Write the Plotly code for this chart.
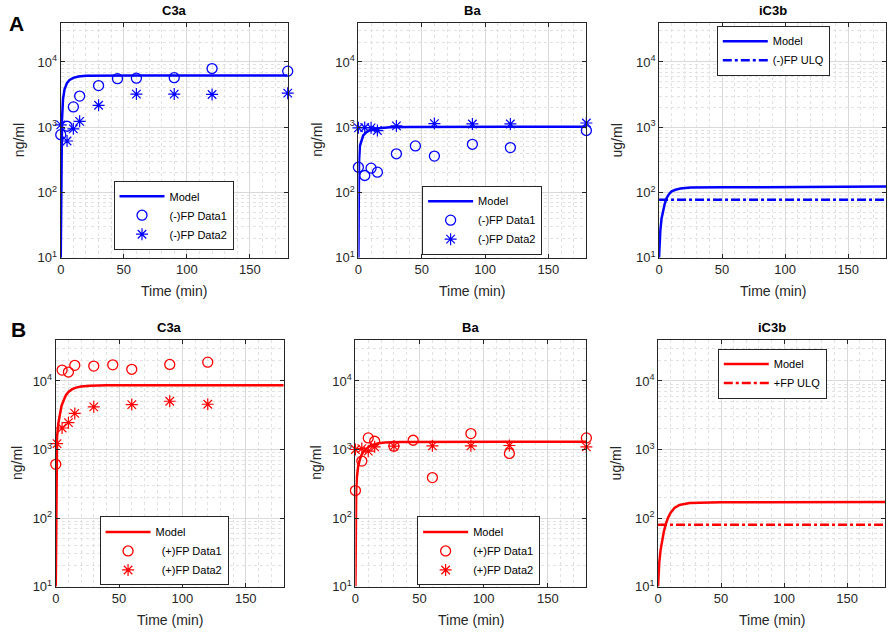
import plotly.graph_objects as go
from plotly.subplots import make_subplots

# ---- data ----
# sampling times of the measurements (min)
t_data = [0, 5, 10, 15, 30, 45, 60, 90, 120, 180]

# (-)FP, C3a (ng/ml)
c3a_neg_d1 = [770, 1035, 2050, 3000, 4350, 5550, 5650, 5740, 7940, 7230]
c3a_neg_d2_t = [0, 5, 10, 15, 30, 60, 90, 120, 180]
c3a_neg_d2 = [1085, 615, 945, 1230, 2170, 3220, 3220, 3180, 3330]
c3a_neg_model_t = [0, 0.3, 0.6, 1, 1.8, 3, 5, 7, 10, 14, 20, 30, 60, 120, 180]
c3a_neg_model = [10, 80, 400, 1300, 2700, 3800, 4800, 5300, 5700, 6000, 6150, 6200, 6200, 6200, 6200]

# (-)FP, Ba (ng/ml)
ba_neg_d1 = [244, 182, 236, 205, 392, 517, 361, 548, 488, 890]
ba_neg_d2_t = [0, 5, 10, 15, 30, 60, 90, 120, 180]
ba_neg_d2 = [980, 990, 980, 890, 1047, 1136, 1123, 1123, 1162]
ba_neg_model_t = [0, 0.2, 0.5, 1.2, 2.5, 3.8, 6, 8, 12, 16, 25, 40, 180]
ba_neg_model = [10, 60, 300, 520, 650, 750, 830, 880, 930, 965, 1000, 1010, 1020]

# (-)FP, iC3b (ug/ml)
ic3b_neg_model_t = [0, 0.5, 1, 2, 3, 4.5, 6, 8, 10, 13, 17, 25, 50, 100, 180]
ic3b_neg_model = [10, 18, 26, 40, 52, 67, 82, 95, 104, 110, 115, 119, 120, 121, 123]
ic3b_neg_ulq = 77.5

# (+)FP, C3a (ng/ml)
c3a_pos_d1_t = [0, 5, 10, 15, 30, 45, 60, 90, 120]
c3a_pos_d1 = [607, 14400, 13500, 16900, 16500, 17200, 14800, 17400, 18800]
c3a_pos_d2_t = [1, 5, 10, 15, 30, 60, 90, 120]
c3a_pos_d2 = [1220, 2060, 2460, 3360, 4190, 4520, 5060, 4570]
c3a_pos_model_t = [0, 0.3, 0.6, 1, 2, 3.3, 4.5, 6, 8, 10, 13, 16, 20, 27, 40, 180]
c3a_pos_model = [10, 60, 600, 1500, 2400, 3300, 4300, 5100, 6200, 6900, 7600, 8000, 8300, 8500, 8650, 8650]

# (+)FP, Ba (ng/ml)
ba_pos_d1 = [252, 678, 1475, 1320, 1118, 1365, 389, 1706, 875, 1475]
ba_pos_d2_t = [0, 5, 10, 15, 30, 60, 90, 120, 180]
ba_pos_d2 = [1000, 1030, 946, 1093, 1118, 1130, 1130, 1143, 1093]
ba_pos_model_t = [0, 0.2, 0.6, 1.2, 2.1, 3.5, 4.7, 6.5, 8.5, 11, 14, 18, 23, 35, 180]
ba_pos_model = [10, 60, 250, 400, 560, 720, 830, 940, 1030, 1120, 1180, 1230, 1260, 1290, 1300]

# (+)FP, iC3b (ug/ml)
ic3b_pos_model_t = [0, 0.5, 1, 2, 3, 4.5, 6, 8, 10, 13, 17, 25, 50, 180]
ic3b_pos_model = [10, 17, 23, 34, 44, 62, 80, 102, 120, 140, 155, 166, 170, 171]
ic3b_pos_ulq = 80

y_tickvals = [10, 100, 1000, 10000]
y_ticktext = ["10<sup>1</sup>", "10<sup>2</sup>", "10<sup>3</sup>", "10<sup>4</sup>"]
x_tickvals = [0, 50, 100, 150]

W, H = 892, 640
FONT = "Liberation Sans, Arial, sans-serif"
AX = "#262626"
BLUE = "#0000ff"
RED = "#ff0000"


def px(x):
    return x / W


def py(y):
    return 1 - y / H


fig = make_subplots(rows=2, cols=3)


def model(t, y, color, leg, row, col):
    fig.add_trace(go.Scatter(x=t, y=y, mode="lines", name="Model",
                             line=dict(color=color, width=2.5), legend=leg),
                  row=row, col=col)


def circles(t, y, color, name, leg, row, col):
    fig.add_trace(go.Scatter(x=t, y=y, mode="markers", name=name, cliponaxis=False,
                             marker=dict(symbol="circle-open", size=10, color=color,
                                         line=dict(color=color, width=1.3)),
                             legend=leg), row=row, col=col)


def stars(t, y, color, name, leg, row, col):
    fig.add_trace(go.Scatter(x=t, y=y, mode="markers", name=name, cliponaxis=False,
                             marker=dict(symbol="asterisk-open", size=10, color=color,
                                         line=dict(color=color, width=1.2)),
                             legend=leg), row=row, col=col)


def ulq(val, color, name, leg, row, col):
    fig.add_trace(go.Scatter(x=[0, 180], y=[val, val], mode="lines", name=name,
                             line=dict(color=color, width=2.5, dash="dashdot"),
                             legend=leg), row=row, col=col)


# top row, (-)FP
model(c3a_neg_model_t, c3a_neg_model, BLUE, "legend", 1, 1)
circles(t_data, c3a_neg_d1, BLUE, "(-)FP Data1", "legend", 1, 1)
stars(c3a_neg_d2_t, c3a_neg_d2, BLUE, "(-)FP Data2", "legend", 1, 1)

model(ba_neg_model_t, ba_neg_model, BLUE, "legend2", 1, 2)
circles(t_data, ba_neg_d1, BLUE, "(-)FP Data1", "legend2", 1, 2)
stars(ba_neg_d2_t, ba_neg_d2, BLUE, "(-)FP Data2", "legend2", 1, 2)

model(ic3b_neg_model_t, ic3b_neg_model, BLUE, "legend3", 1, 3)
ulq(ic3b_neg_ulq, BLUE, "(-)FP ULQ", "legend3", 1, 3)

# bottom row, (+)FP
model(c3a_pos_model_t, c3a_pos_model, RED, "legend4", 2, 1)
circles(c3a_pos_d1_t, c3a_pos_d1, RED, "\u00a0\u00a0(+)FP Data1", "legend4", 2, 1)
stars(c3a_pos_d2_t, c3a_pos_d2, RED, "\u00a0\u00a0(+)FP Data2", "legend4", 2, 1)

model(ba_pos_model_t, ba_pos_model, RED, "legend5", 2, 2)
circles(t_data, ba_pos_d1, RED, "(+)FP Data1", "legend5", 2, 2)
stars(ba_pos_d2_t, ba_pos_d2, RED, "(+)FP Data2", "legend5", 2, 2)

model(ic3b_pos_model_t, ic3b_pos_model, RED, "legend6", 2, 3)
ulq(ic3b_pos_ulq, RED, "+FP ULQ", "legend6", 2, 3)

# panel boxes in pixels: (left, right, top, bottom)
boxes = [(57, 285, 23, 261), (356, 585, 23, 261), (658, 886, 23, 261),
         (52, 281, 344, 594), (353, 585, 344, 594), (657, 885, 344, 594)]

minor_y = [m * 10 ** e for e in range(1, 5) for m in range(2, 10)]

for i, (l, r, t, b) in enumerate(boxes):
    sx = "" if i == 0 else str(i + 1)
    fig.layout["xaxis" + sx].update(
        domain=[px(l), px(r)], range=[0, 180], tickvals=x_tickvals,
        showline=True, mirror="ticks", linecolor=AX, linewidth=1,
        ticks="inside", ticklen=4, tickcolor=AX, zeroline=False,
        tickfont=dict(family=FONT, size=13, color=AX),
        showgrid=True, gridcolor="#d9d9d9", gridwidth=1,
        minor=dict(dtick=10, showgrid=True, gridcolor="#e2e2e2", griddash="dot", ticks=""),
    )
    fig.layout["yaxis" + sx].update(
        domain=[py(b), py(t)], type="log", range=[1, 4.602],
        tickvals=y_tickvals, ticktext=y_ticktext,
        showline=True, mirror="ticks", linecolor=AX, linewidth=1,
        ticks="inside", ticklen=4, tickcolor=AX, zeroline=False,
        tickfont=dict(family=FONT, size=13, color=AX),
        showgrid=True, gridcolor="#d9d9d9", gridwidth=1,
        minor=dict(tickmode="array", tickvals=minor_y, showgrid=True,
                   gridcolor="#e2e2e2", griddash="dot", ticks=""),
    )

# legends (top-left corner in pixels)
leg_pos = {"legend": (110, 183), "legend2": (420, 188), "legend3": (716, 26),
           "legend4": (96, 523), "legend5": (415, 523), "legend6": (717, 353)}
for name, (lx, ly) in leg_pos.items():
    fig.layout[name] = dict(x=px(lx), y=py(ly), xanchor="left", yanchor="top",
                            bgcolor="white", bordercolor=AX, borderwidth=1,
                            font=dict(family=FONT, size=11, color="black"),
                            itemwidth=45, tracegroupgap=0)

# text
panel_titles = ["C3a", "Ba", "iC3b", "C3a", "Ba", "iC3b"]
y_titles = ["ng/ml", "ng/ml", "ug/ml", "ng/ml", "ng/ml", "ug/ml"]
y_title_x = [15, 315, 616, 13, 314, 615]
ann = []
for i, (l, r, t, b) in enumerate(boxes):
    cx = (l + r) / 2
    ann.append(dict(text="<b>" + panel_titles[i] + "</b>", x=px(cx), y=py(t - 12),
                    font=dict(size=13, color="black")))
    ann.append(dict(text="Time (min)", x=px(cx), y=py(b + 34),
                    font=dict(size=14, color=AX)))
    ann.append(dict(text=y_titles[i], x=px(y_title_x[i]), y=py((t + b) / 2),
                    textangle=-90, font=dict(size=14, color=AX)))
ann.append(dict(text="<b>A</b>", x=px(13), y=py(24), font=dict(size=21, color="black")))
ann.append(dict(text="<b>B</b>", x=px(15), y=py(334), font=dict(size=21, color="black")))
for a in ann:
    a.update(xref="paper", yref="paper", showarrow=False, xanchor="center", yanchor="middle")
    a["font"]["family"] = FONT

fig.update_layout(width=W, height=H, margin=dict(l=0, r=0, t=0, b=0),
                  paper_bgcolor="white", plot_bgcolor="white",
                  showlegend=True, annotations=ann,
                  font=dict(family=FONT))

# the page body has a default margin; drop it so the figure sits at the window corner
fig.write_html("out.html", config={"displayModeBar": False},
               post_script="document.body.style.margin='0';")
